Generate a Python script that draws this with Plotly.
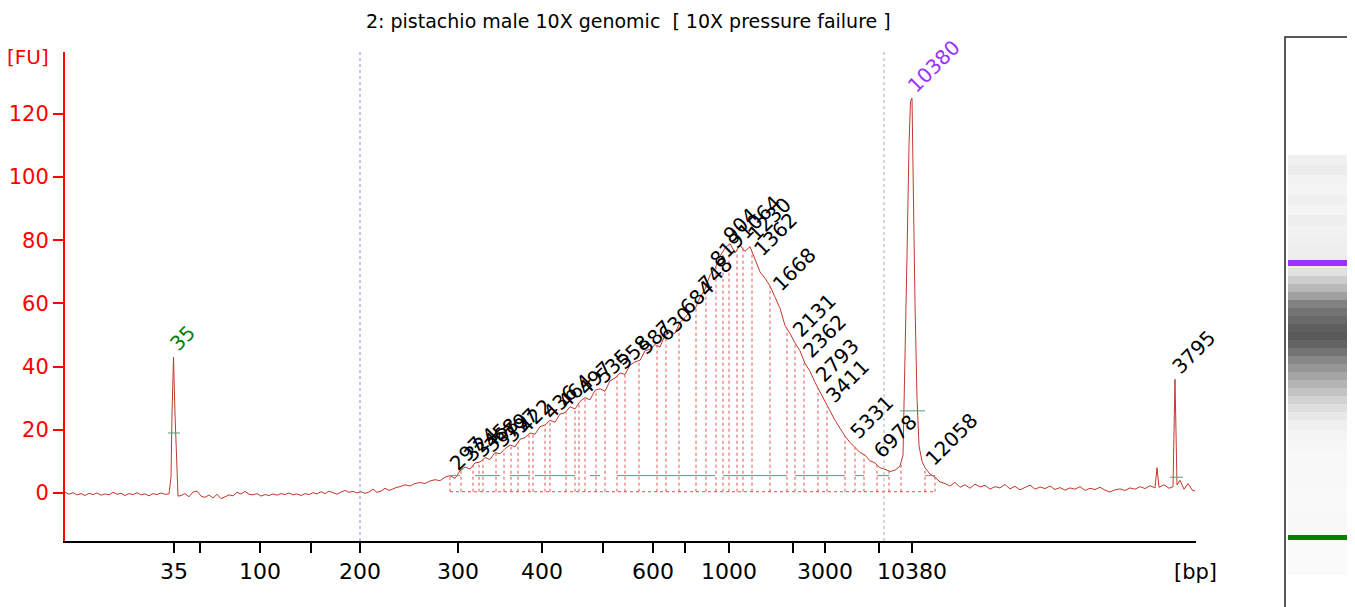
import numpy as np
import plotly.graph_objects as go

# x is in electropherogram pixel units (migration position), y in FU
base1_x = [65, 69, 73, 77, 81, 85, 89, 93, 97, 101, 105, 109, 113, 117, 121, 125, 129, 133, 137, 141, 145, 149, 153, 157, 161, 165, 169]
base1_y = [0.2, -0.4, 0.1, -0.6, -0.2, -0.8, -0.1, -0.5, 0.0, -0.7, -0.3, -0.6, 0.2, -0.4, -0.1, -0.8, -0.2, -0.5, 0.1, -0.6, -0.3, -0.9, -0.2, -0.5, 0.0, -0.4, -0.3]
p35_x = [171, 172, 173.5, 175, 177, 178]
p35_y = [5, 25, 43, 25, 3, -1]
base2_x = [181, 185, 189, 193, 197, 201, 205, 209, 213, 217, 221, 225, 229, 233, 237, 241, 245, 249, 253, 257, 261, 265, 269,
           273, 277, 281, 285, 289, 293, 297, 301, 305, 309, 313, 317, 321, 325, 329, 333, 337, 341, 345, 349, 353, 357,
           361, 365, 369, 373, 377, 381, 385, 389, 393, 397]
base2_y = [-0.8, -0.2, -1.2, 0.3, 0.6, -1.0, -1.4, -0.6, -1.6, -0.4, -1.8, -1.2, -0.6, -0.9, 0.2, -0.3, 0.5, -0.4, -0.6, -0.2, -1.0, -0.5, -0.8,
           -0.3, -0.7, -0.2, -0.5, 0.0, -0.6, -0.3, -0.8, -0.2, -0.5, 0.1, -0.3, 0.4, -0.2, 0.6, 0.1, -0.4, 0.3, 0.8, 0.2, 0.5, 0.0,
           0.4, -0.1, 0.3, 1.2, 0.2, 0.6, 1.5, 0.8, 1.4, 1.8]
smear_x = list(range(400, 905, 5))
smear_y = [2.0, 2.6, 2.2, 3.0, 3.3, 3.0, 3.8, 4.2, 3.9, 5.0, 5.5, 4.6, 7.0, 8.2, 7.6, 9.5, 9.8, 11.2, 10.6, 12.8,
           12.4, 14.0, 15.2, 14.6, 17.0, 17.5, 19.0, 18.6, 21.0, 21.5, 23.0, 22.4, 25.0, 25.4, 27.3, 26.6, 29.0, 30.2, 29.5, 32.5,
           33.0, 32.2, 35.5, 36.4, 38.0, 37.5, 40.5, 41.5, 42.0, 45.0, 45.5, 47.0, 46.2, 50.0, 51.0, 50.5, 54.0, 55.5, 57.5, 58.2,
           62.0, 64.5, 69.0, 71.0, 75.0, 77.5, 79.0, 76.0, 78.5, 76.5, 78.0, 74.0, 70.0, 68.0, 65.5, 62.0, 58.5, 53.0, 50.5, 47.5,
           45.0, 41.0, 38.5, 35.0, 32.0, 28.5, 25.5, 23.0, 20.5, 18.0, 16.0, 14.5, 12.8, 12.0, 10.2, 9.5, 8.0, 7.5, 6.8, 7.2, 8.5]
pk_x = [903, 905, 907, 909, 910.5, 912, 913, 915, 917, 919, 922, 925, 930, 935, 940]
pk_y = [12, 40, 75, 110, 124, 125, 100, 60, 30, 15, 10, 8, 6, 5, 3.5]
base3_x = [945, 950, 955, 960, 965, 970, 975, 980, 985, 990, 995, 1000, 1005, 1010, 1015, 1020, 1025, 1030, 1035, 1040,
           1045, 1050, 1055, 1060, 1065, 1070, 1075, 1080, 1085, 1090, 1095, 1100, 1105, 1110, 1115, 1120, 1125, 1130,
           1135, 1140, 1145, 1150, 1155, 1157, 1159, 1164, 1169, 1173, 1175, 1177, 1180, 1184, 1188, 1192, 1195]
base3_y = [3.0, 2.2, 3.4, 1.8, 2.6, 1.5, 2.8, 1.9, 2.4, 1.2, 2.0, 1.6, 2.7, 1.3, 2.1, 1.0, 1.8, 2.5, 1.2, 1.9,
           1.4, 2.2, 1.1, 1.7, 0.9, 1.6, 1.2, 2.0, 0.8, 1.5, 1.1, 1.8, 0.9, 0.3, 1.0, 1.3, 0.8, 1.6,
           1.2, 2.0, 1.4, 2.3, 1.6, 8.0, 1.8, 2.6, 1.5, 2.0, 36.0, 2.5, 4.0, 1.2, 3.0, 1.0, 0.6]
trace_x = base1_x + p35_x + base2_x + smear_x + pk_x + base3_x
trace_y = base1_y + p35_y + base2_y + smear_y + pk_y + base3_y

tick_pos = [174, 200, 260, 311, 360, 458, 542, 603, 653, 685, 729, 793, 825, 879, 912]
tick_txt = ["35", "", "100", "", "200", "300", "400", "", "600", "", "1000", "", "3000", "", "10380"]

peak_labels = ["297", "324", "345", "368", "379", "397", "422", "436", "464", "497", "535", "558", "587", "630", "684",
               "748", "819", "904", "1064", "1230", "1362", "1668", "2131", "2362", "2793", "3411", "5331", "6978", "12058"]
peak_pos = [452, 466, 476, 486, 496, 506, 520, 545, 560, 580, 598, 618, 640, 660, 682,
            700, 712, 725, 740, 750, 756, 775, 795, 805, 818, 828, 852, 876, 928]

region_edges = [450, 461, 473, 479, 483, 496, 504, 511, 518, 529, 533, 545, 550, 566, 575, 579, 585, 596, 605, 617, 625,
                639, 657, 666, 679, 696, 706, 716, 723, 729, 737, 743, 752, 770, 787, 795, 804, 818, 827, 845, 855, 864,
                877, 889, 901, 925, 935]
green_spans = [(450, 460), (475, 500), (510, 530), (535, 575), (590, 600), (617, 715), (723, 787), (795, 845),
               (855, 864), (877, 889), (925, 935)]

gel_y = [155, 165, 175, 185, 195, 205, 215, 225, 235, 245, 255, 268, 276, 284, 292, 300, 308, 316, 324, 332, 340,
         348, 356, 364, 372, 380, 388, 396, 404, 412, 420, 430, 440, 450, 470, 490, 510, 530, 545, 560, 575]
gel_gray = [240, 236, 242, 244, 240, 244, 238, 242, 240, 238, 236, 225, 205, 185, 160, 130, 115, 105, 95, 90, 100,
            115, 135, 150, 165, 180, 195, 210, 222, 232, 240, 244, 246, 248, 248, 249, 248, 249, 250, 250, 251]

W, H = 1355, 607
OFF = 8  # page body margin
L, R, T, B = 65, 1196, 52, 541
YMIN, YMAX = -15.2, 139.6
FONT = "DejaVu Sans"

def px(x):
    return (x - L) / (R - L)

def py(y):
    return (B - y) / (B - T)

fig = go.Figure()
fig.add_trace(go.Scatter(x=trace_x, y=trace_y, mode="lines", line=dict(color="#c0392b", width=1), hoverinfo="skip"))

shapes = []
curve = lambda x: float(np.interp(x, trace_x, trace_y))
for e in region_edges:
    shapes.append(dict(type="line", x0=e, x1=e, y0=0.4, y1=curve(e), xref="x", yref="y",
                       line=dict(color="#e05050", width=1, dash="dot")))
shapes.append(dict(type="line", x0=region_edges[0], x1=region_edges[-1], y0=0.4, y1=0.4, xref="x", yref="y",
                   line=dict(color="#e05050", width=1, dash="dot")))
for a, b in green_spans:
    shapes.append(dict(type="line", x0=a, x1=b, y0=5.5, y1=5.5, xref="x", yref="y", line=dict(color="#5a9a8a", width=1)))
for a, b, yy in [(168, 180, 19), (900, 925, 26), (1170, 1183, 5)]:
    shapes.append(dict(type="line", x0=a, x1=b, y0=yy, y1=yy, xref="x", yref="y", line=dict(color="#5a9a8a", width=1)))
shapes.append(dict(type="line", x0=360, x1=360, y0=YMIN, y1=YMAX, xref="x", yref="y", line=dict(color="#8888dd", width=1, dash="dot")))
shapes.append(dict(type="line", x0=884, x1=884, y0=YMIN, y1=YMAX, xref="x", yref="y", line=dict(color="#aaaaaa", width=1, dash="dot")))

# gel lane
shapes.append(dict(type="rect", x0=px(1285), x1=px(1360), y0=py(610), y1=py(37), xref="paper", yref="paper",
                   line=dict(color="#222", width=1.5), fillcolor="white"))
for i in range(len(gel_y) - 1):
    g = gel_gray[i]
    shapes.append(dict(type="rect", x0=px(1288), x1=px(1353), y0=py(gel_y[i + 1]), y1=py(gel_y[i]), xref="paper",
                       yref="paper", line=dict(width=0), fillcolor=f"rgb({g},{g},{g})"))
shapes.append(dict(type="rect", x0=px(1288), x1=px(1353), y0=py(266), y1=py(260), xref="paper", yref="paper",
                   line=dict(width=0), fillcolor="#9b30ff"))
shapes.append(dict(type="rect", x0=px(1288), x1=px(1353), y0=py(540), y1=py(535), xref="paper", yref="paper",
                   line=dict(width=0), fillcolor="#008000"))

ann = []
def rot_label(text, x, y, color):
    half = len(text) * 12.5 / 2 * 0.707
    ann.append(dict(x=x, y=y, text=text, showarrow=False, textangle=-45, xref="x", yref="y",
                    xanchor="center", yanchor="middle",
                    xshift=half + 2, yshift=half + 10, font=dict(family=FONT, size=20, color=color)))

for t, x in zip(peak_labels, peak_pos):
    rot_label(t, x, curve(x), "black")
rot_label("10380", 910, 125, "#9b30ff")
rot_label("35", 172, 43, "green")
rot_label("3795", 1174, 36, "black")

ann.append(dict(x=px(28), y=py(57), xref="paper", yref="paper", text="[FU]", showarrow=False,
                xanchor="center", yanchor="middle", font=dict(family=FONT, size=20, color="red")))
ann.append(dict(x=px(1195), y=py(572), xref="paper", yref="paper", text="[bp]", showarrow=False,
                xanchor="center", yanchor="middle", font=dict(family=FONT, size=21, color="black")))
ann.append(dict(x=px(628), y=py(21), xref="paper", yref="paper", text="2: pistachio male 10X genomic  [ 10X pressure failure ]",
                xanchor="center", yanchor="middle", showarrow=False, font=dict(family=FONT, size=19, color="black")))

fig.update_layout(
    width=W - OFF, height=H - OFF, margin=dict(l=L - OFF, r=W - R, t=T - OFF, b=H - B, autoexpand=False),
    plot_bgcolor="white", paper_bgcolor="white", showlegend=False,
    shapes=shapes, annotations=ann,
    xaxis=dict(range=[L, R], tickvals=tick_pos, ticktext=tick_txt, ticks="outside", ticklen=10, tickwidth=2,
               tickcolor="black", showgrid=False, zeroline=False, showline=True, linecolor="black", linewidth=2,
               automargin=False, tickfont=dict(family=FONT, size=22, color="black")),
    yaxis=dict(range=[YMIN, YMAX], tickvals=[0, 20, 40, 60, 80, 100, 120], ticks="outside", ticklen=10, tickwidth=2,
               tickcolor="red", showgrid=False, zeroline=False, showline=True, linecolor="red", linewidth=2,
               automargin=False, tickfont=dict(family=FONT, size=21, color="red")),
)
fig.write_html("out.html")
